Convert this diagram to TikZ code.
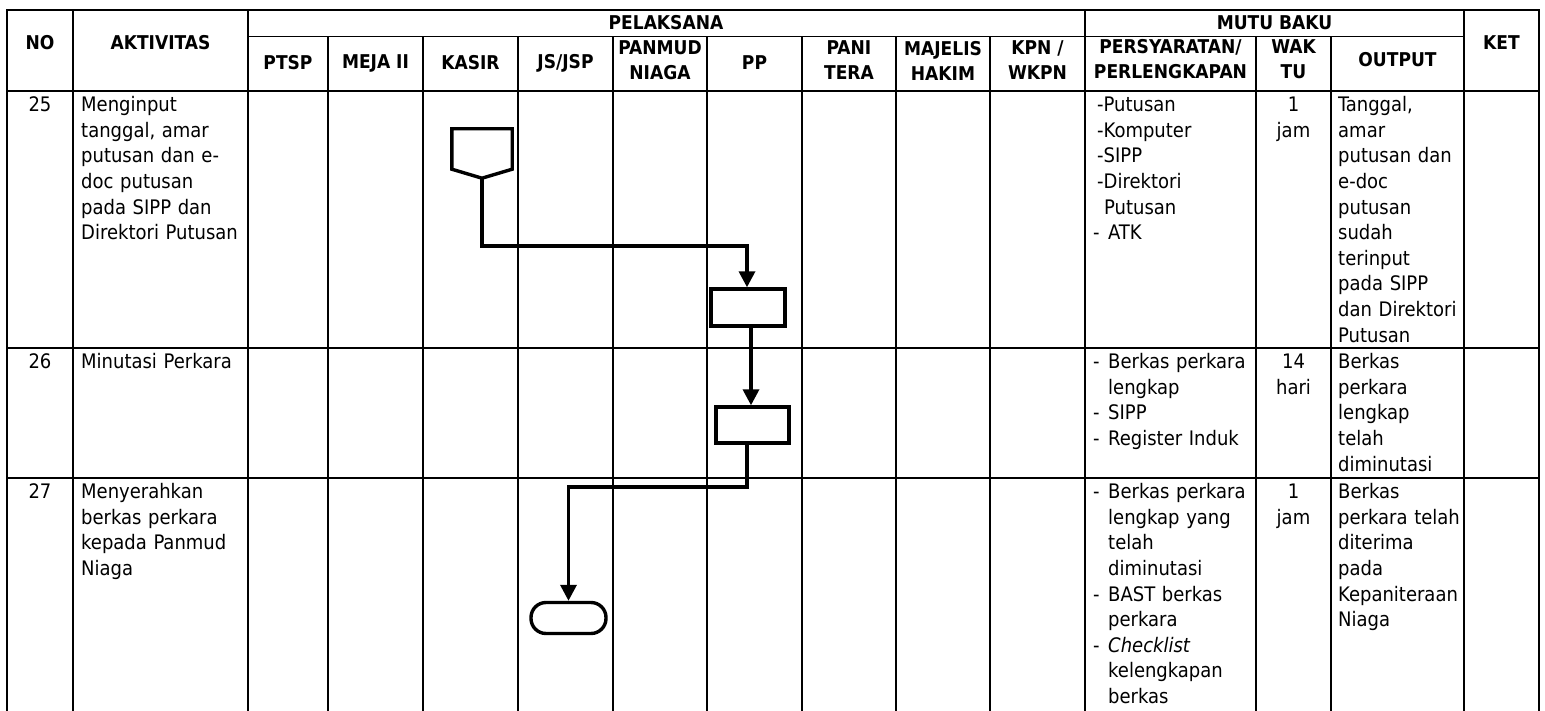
\documentclass[tikz,border=0pt]{standalone}
\usepackage{fontspec}
\setmainfont{DejaVu Sans Condensed}[BoldFont={DejaVu Sans Condensed Bold},ItalicFont={DejaVu Sans Condensed Oblique}]
\usetikzlibrary{arrows.meta}
\newcommand{\bodyfont}{\fontsize{20}{25.6}\selectfont}
\newcommand{\hdfont}{\fontsize{19}{25}\selectfont\bfseries}
\newcommand{\itm}{\makebox[15pt][l]{-}}
\newcommand{\ind}{\hspace*{15pt}}

\begin{document}
\begin{tikzpicture}[
  x=1pt, y=-1pt,
  grid/.style={line width=1.6pt, black, line cap=rect},
  hd/.style={font=\hdfont, align=center, inner sep=0pt},
  cell/.style={font=\bodyfont, inner sep=0pt, anchor=north west, align=left, text width=#1, execute at begin node=\strut},
  cell/.default=160pt,
  numc/.style={cell=#1, anchor=north, align=center},
  numc/.default=60pt,
  procbox/.style={draw, line width=3.4pt, inner sep=0pt, minimum width=74pt, minimum height=37pt},
  endbox/.style={draw, line width=3.4pt, inner sep=0pt, rounded corners=15pt, minimum width=75pt, minimum height=31pt},
  flow/.style={line width=3.4pt, -{Triangle[length=16pt,width=16pt]}}
]
\useasboundingbox (0,0) rectangle (1545,711);
% table grid
\draw[grid] (7,10) -- (1539,10);
\draw[grid] (248,36.5) -- (1464,36.5);
\foreach \y in {91,348,478} \draw[grid] (7,\y) -- (1539,\y);
\foreach \x in {7,73,248,1085,1464,1539} \draw[grid] (\x,10) -- (\x,711);
\foreach \x in {328,423,518,613,707,802,896,990,1256,1331} \draw[grid] (\x,36.5) -- (\x,711);
% header
\node[hd] (hNo) at (40,43) {NO};
\node[hd] (hAkt) at (160.5,43) {AKTIVITAS};
\node[hd] (hPel) at (666,23) {PELAKSANA};
\node[hd] (hMutu) at (1274.5,23) {MUTU BAKU};
\node[hd] (hKet) at (1501.5,43) {KET};
\node[hd] (hPtsp) at (288,63) {PTSP};
\node[hd] (hMeja) at (375.5,63) {MEJA II};
\node[hd] (hKasir) at (470.5,63) {KASIR};
\node[hd] (hJs) at (565.5,63) {JS/JSP};
\node[hd] (hPanmud) at (660,60.5) {PANMUD\\NIAGA};
\node[hd] (hPp) at (754.5,63) {PP};
\node[hd] (hPani) at (849,60.5) {PANI\\TERA};
\node[hd] (hMajelis) at (943,60.5) {MAJELIS\\HAKIM};
\node[hd] (hKpn) at (1037.5,60.5) {KPN /\\WKPN};
\node[hd] (hSyarat) at (1170.5,59) {PERSYARATAN/\\PERLENGKAPAN};
\node[hd] (hWaktu) at (1293.5,59) {WAK\\TU};
\node[hd] (hOutput) at (1397.5,60) {OUTPUT};
% row 25
\node[numc] (no25) at (40,93.6) {25};
\node[cell] (akt25) at (81,93.6) {Menginput\\tanggal, amar\\putusan dan e-\\doc putusan\\pada SIPP dan\\Direktori Putusan};
\node[cell] (syarat25) at (1093,93.6) {\hspace*{4pt}-Putusan\\\hspace*{4pt}-Komputer\\\hspace*{4pt}-SIPP\\\hspace*{4pt}-Direktori\\\hspace*{11pt}Putusan\\\itm ATK};
\node[numc=75pt] (waktu25) at (1293.5,93.6) {1\\jam};
\node[cell=140pt] (out25) at (1338,93.6) {Tanggal,\\amar\\putusan dan\\e-doc\\putusan\\sudah\\terinput\\pada SIPP\\dan Direktori\\Putusan};
% row 26
\node[numc] (no26) at (40,350.6) {26};
\node[cell] (akt26) at (81,350.6) {Minutasi Perkara};
\node[cell] (syarat26) at (1093,350.6) {\itm Berkas perkara\\\ind lengkap\\\itm SIPP\\\itm Register Induk};
\node[numc=75pt] (waktu26) at (1293.5,350.6) {14\\hari};
\node[cell=140pt] (out26) at (1338,350.6) {Berkas\\perkara\\lengkap\\telah\\diminutasi};
% row 27
\node[numc] (no27) at (40,480.6) {27};
\node[cell] (akt27) at (81,480.6) {Menyerahkan\\berkas perkara\\kepada Panmud\\Niaga};
\node[cell] (syarat27) at (1093,480.6) {\itm Berkas perkara\\\ind lengkap yang\\\ind telah\\\ind diminutasi\\\itm BAST berkas\\\ind perkara\\\itm \textit{Checklist}\\\ind kelengkapan\\\ind berkas};
\node[numc=75pt] (waktu27) at (1293.5,480.6) {1\\jam};
\node[cell=140pt] (out27) at (1338,480.6) {Berkas\\perkara telah\\diterima\\pada\\Kepaniteraan\\Niaga};
% flow symbols
\node[minimum width=60pt, minimum height=49pt, inner sep=0pt] (conn) at (482,153.5) {};
\draw[line width=3.4pt] (conn.north west) -- (conn.north east) -- ([yshift=9pt]conn.south east) -- (conn.south) -- ([yshift=9pt]conn.south west) -- cycle;
\node[procbox] (box1) at (748,307.5) {};
\node[procbox, minimum width=73pt, minimum height=36pt] (box2) at (752.5,425) {};
\node[endbox] (term) at (568.5,618) {};
% connectors
\coordinate (bendA) at (747,246);
\coordinate (bendB) at (747,487);
\draw[flow] (conn.south) |- (bendA) -- (bendA |- box1.north);
\draw[flow] ([xshift=3pt]box1.south) -- ([xshift=3pt]box1.south |- box2.north);
\draw[flow] (bendB |- box2.south) -- (bendB) -| (term.north);
\end{tikzpicture}
\end{document}
